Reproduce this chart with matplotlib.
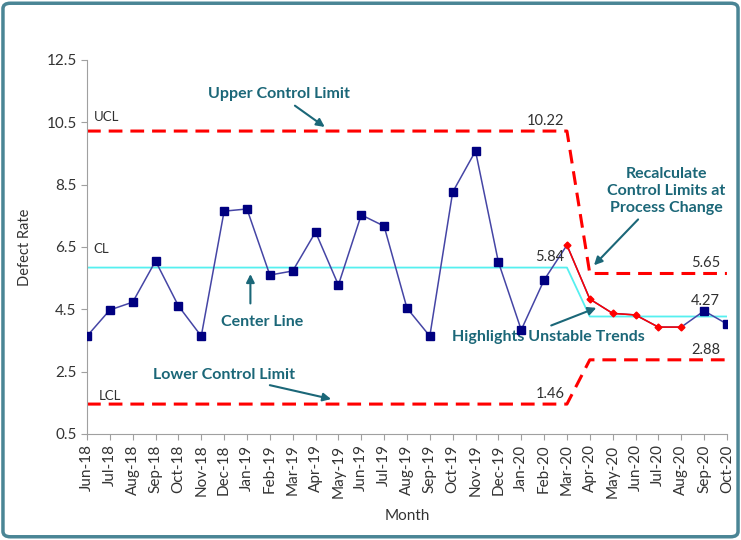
import matplotlib
matplotlib.use("Agg")
import matplotlib.pyplot as plt
from matplotlib.patches import FancyBboxPatch
import numpy as np

plt.rcParams['font.family'] = ['Lato', 'DejaVu Sans']

months = ["Jun-18", "Jul-18", "Aug-18", "Sep-18", "Oct-18", "Nov-18", "Dec-18",
          "Jan-19", "Feb-19", "Mar-19", "Apr-19", "May-19", "Jun-19", "Jul-19",
          "Aug-19", "Sep-19", "Oct-19", "Nov-19", "Dec-19", "Jan-20", "Feb-20",
          "Mar-20", "Apr-20", "May-20", "Jun-20", "Jul-20", "Aug-20", "Sep-20", "Oct-20"]
defect_rate = [3.64, 4.48, 4.73, 6.05, 4.61, 3.64, 7.65, 7.72, 5.60, 5.73, 6.98,
               5.28, 7.53, 7.17, 4.54, 3.64, 8.26, 9.58, 6.02, 3.84, 5.44,
               6.56, 4.83, 4.37, 4.32, 3.93, 3.93, 4.45, 4.03]
# months flagged as unstable trend (red)
unstable = ["Mar-20", "Apr-20", "May-20", "Jun-20", "Jul-20", "Aug-20"]
# limits before / after process change (change after Mar-20)
ucl = [10.22] * 22 + [5.65] * 7
cl = [5.84] * 22 + [4.27] * 7
lcl = [1.46] * 22 + [2.88] * 7

x = np.arange(len(months))
y = np.array(defect_rate)
is_red = np.array([m in unstable for m in months])

fig = plt.figure(figsize=(7.41, 5.4), dpi=100)
ax = fig.add_axes([0.1174, 0.1963, 0.8636, 0.6926])

teal = '#1b6778'
dash = (4.5, 2.6)
ax.plot(x, ucl, color='#ff0000', lw=2.2, dashes=dash, zorder=2)
ax.plot(x, lcl, color='#ff0000', lw=2.2, dashes=dash, zorder=2)
ax.plot(x, cl, color='#55f0f0', lw=1.3, zorder=2)

ax.plot(x, y, color='#4545a5', lw=1.1, zorder=3)
ax.plot(x[~is_red], y[~is_red], ls='none', marker='s', ms=6, color='#000080', zorder=4)
ax.plot(x[is_red], y[is_red], color='#ff0000', lw=1.1, marker='D', ms=3.5, zorder=5)

ax.set_xlim(0, len(months) - 1)
ax.set_ylim(0.5, 12.5)
ax.set_yticks([0.5, 2.5, 4.5, 6.5, 8.5, 10.5, 12.5])
ax.set_xticks(x)
ax.set_xticklabels(months, rotation=90, fontsize=11)
for lab in ax.get_yticklabels():
    lab.set_fontsize(11)
for s in ['top', 'right']:
    ax.spines[s].set_visible(False)
for s in ['left', 'bottom']:
    ax.spines[s].set_color('#a0a0a0')
ax.tick_params(colors='#a0a0a0', length=4, labelcolor='#333333')
ax.set_ylabel("Defect Rate", fontsize=10.5, color='#333333', labelpad=10)
ax.set_xlabel("Month", fontsize=11, color='#333333', labelpad=8)

# side labels
ax.text(0.3, 10.55, "UCL", fontsize=9.5, color='#303030')
ax.text(0.3, 6.3, "CL", fontsize=9.5, color='#303030')
ax.text(0.5, 1.6, "LCL", fontsize=9.5, color='#303030')
ax.text(20.9, 10.32, "10.22", fontsize=10.5, color='#303030', ha='right', va='bottom')
ax.text(20.9, 5.94, "5.84", fontsize=10.5, color='#303030', ha='right', va='bottom')
ax.text(20.9, 1.56, "1.46", fontsize=10.5, color='#303030', ha='right', va='bottom')
ax.text(27.7, 5.75, "5.65", fontsize=10.5, color='#303030', ha='right', va='bottom')
ax.text(27.7, 4.55, "4.27", fontsize=10.5, color='#303030', ha='right', va='bottom')
ax.text(27.7, 2.98, "2.88", fontsize=10.5, color='#303030', ha='right', va='bottom')

akw = dict(fontsize=11.5, fontweight='bold', color=teal, ha='center', va='center')
arr = dict(arrowstyle='-|>', color=teal, lw=1.5, mutation_scale=12)
ax.annotate("Upper Control Limit", xy=(10.5, 10.3), xytext=(8.4, 11.4),
            arrowprops=arr, **akw)
ax.text(7.65, 4.08, "Center Line", **akw)
ax.annotate("", xy=(7.15, 5.72), xytext=(7.15, 4.6), arrowprops=arr)
ax.annotate("Lower Control Limit", xy=(10.8, 1.6), xytext=(6.0, 2.4),
            arrowprops=arr, **akw)
ax.annotate("Recalculate\nControl Limits at\nProcess Change", xy=(22.1, 5.85),
            xytext=(25.35, 8.3), linespacing=1.25,
            arrowprops=dict(arrowstyle='-|>', color=teal, lw=1.5, mutation_scale=12,
                            relpos=(0.3, 0.0)), **akw)
ax.text(20.2, 3.6, "Highlights Unstable Trends", **akw)
ax.annotate("", xy=(22.4, 4.58), xytext=(20.2, 3.95), arrowprops=arr)

border = FancyBboxPatch((0.004, 0.006), 0.992, 0.988, boxstyle='round,pad=0,rounding_size=0.01',
                        transform=fig.transFigure, fill=False, ec='#4a8595', lw=2.5)
fig.patches.append(border)

fig.savefig("out.png", dpi=100)
